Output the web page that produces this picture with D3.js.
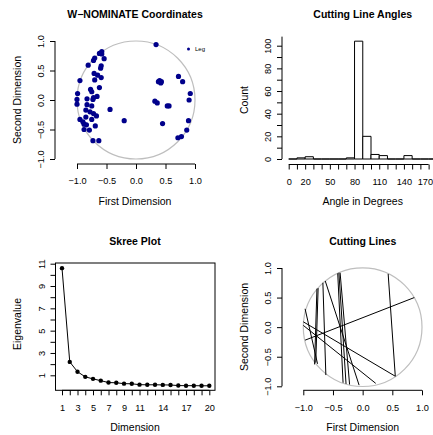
<!DOCTYPE html>
<html><head><meta charset="utf-8">
<script src="https://cdn.jsdelivr.net/npm/d3@7"></script>
<style>body{margin:0;background:#fff} svg{display:block} text{font-family:"Liberation Sans",Arial,Helvetica,sans-serif;fill:#000}</style>
</head><body><svg id="c" width="433" height="435"></svg>
<script>
// ---------- DATA ----------
// Panel 1: W-NOMINATE coordinates
const coordX = [-0.58,-0.62,-0.58,-0.54,-0.70,-0.72,-0.81,-0.59,-0.60,-0.71,-0.65,-0.59,-0.70,-0.95,-0.62,-0.77,-0.75,-0.99,-1.00,-0.83,-0.72,-0.73,-0.66,-1.00,-0.83,-0.75,-0.44,-0.20,-0.85,-0.78,-0.72,-0.67,-0.85,-0.95,-0.90,-0.75,-0.88,-0.84,-0.69,-0.88,-0.79,-0.73,-0.63,
  0.34,0.72,0.79,0.40,0.42,0.38,0.43,0.92,0.90,0.32,0.36,0.53,0.56,0.45,0.89,0.86,0.77,0.71];
const coordY = [0.82,0.79,0.78,0.70,0.71,0.67,0.59,0.58,0.54,0.45,0.42,0.38,0.34,0.33,0.21,0.18,0.14,0.11,0.01,0.02,0.04,0.01,0.06,-0.07,-0.08,-0.10,-0.16,-0.35,-0.17,-0.20,-0.23,-0.27,-0.29,-0.33,-0.37,-0.33,-0.41,-0.42,-0.44,-0.50,-0.51,-0.69,-0.69,
  0.94,0.40,0.31,0.33,0.29,0.31,0.31,0.11,0.00,-0.02,-0.05,-0.10,-0.10,-0.40,-0.35,-0.51,-0.62,-0.64];
const legendLabels = ["Leg"];
const coordTicks = [-1, -0.5, 0, 0.5, 1];
const coordTickLabels = ["\u22121.0","\u22120.5","0.0","0.5","1.0"];

// Panel 2: cutting line angle histogram (bins of 10 degrees)
const angleBinStarts = [0,10,20,30,40,50,60,70,80,90,100,110,120,130,140,150,160,170];
const angleCounts    = [0, 1, 2, 0, 0, 0, 0, 1,104,20,  4,  3,  0,  0,  3,  0,  0,  0];
const angleTicks = [0,10,20,30,40,50,60,70,80,90,100,110,120,130,140,150,160,170];
const angleTickLabels = ["0","","20","","","50","","","80","","","110","","","140","","","170"];
const countTicks = [0,10,20,30,40,50,60,70,80,90,100];
const countTickLabels = ["0","","20","","40","","60","","80","","100"];

// Panel 3: skree plot
const dims = [1,2,3,4,5,6,7,8,9,10,11,12,13,14,15,16,17,18,19,20];
const eigenvalues = [10.6,2.2,1.32,0.86,0.68,0.52,0.35,0.33,0.25,0.24,0.16,0.15,0.15,0.14,0.13,0.08,0.07,0.07,0.06,0.06];
const dimTicks = dims;
const dimTickLabels = ["1","","3","","5","","7","","9","","11","","","14","","","17","","","20"];
const eigTicks = [1,2,3,4,5,6,7,8,9,10,11];
const eigTickLabels = ["1","","3","","5","","7","","9","","11"];

// Panel 4: cutting lines (endpoints)
const cutX1 = [0.43, 0.87,-1.00,-1.00,-0.97,-0.77,-0.75,-0.67,-0.63,-0.42,-0.40,-0.38];
const cutY1 = [0.90, 0.50, 0.09, 0.03, 0.31, 0.65, 0.66, 0.75, 0.78, 0.91, 0.92, 0.92];
const cutX2 = [0.55,-0.97, 0.55, 0.22,-0.76,-0.81,-0.79,-0.62,-0.06,-0.33,-0.28,-0.22];
const cutY2 = [-0.83,-0.22,-0.83,-0.95,-0.62,-0.63,-0.60,-0.81,-0.98,-0.94,-0.96,-0.97];

// ---------- DRAW ----------
const svg = d3.select("#c");
const TICK_FS = 9.2, LAB_FS = 10.5, TITLE_FS = 10.5;

function title(txt, x, y) {
  svg.append("text").attr("x", x).attr("y", y).attr("dy","0.35em")
    .attr("text-anchor","middle").attr("font-weight","bold").attr("font-size", TITLE_FS).text(txt);
}
function xlab(txt, x, y) {
  svg.append("text").attr("x", x).attr("y", y).attr("dy","0.35em")
    .attr("text-anchor","middle").attr("font-size", LAB_FS).text(txt);
}
function ylab(txt, x, y) {
  svg.append("text").attr("transform", `translate(${x},${y}) rotate(-90)`).attr("dy","0.35em")
    .attr("text-anchor","middle").attr("font-size", LAB_FS).text(txt);
}
function bottomAxis(scale, ticks, labels, y) {
  const g = svg.append("g").attr("transform", `translate(0,${y})`)
    .call(d3.axisBottom(scale).tickValues(ticks).tickSize(5).tickSizeOuter(0)
      .tickFormat((d,i) => labels[i]));
  g.select(".domain").remove();
  g.selectAll(".tick line").attr("stroke","#000");
  g.selectAll(".tick text").attr("y", 17).attr("dy","0.35em")
    .attr("font-size", TICK_FS).attr("fill","#000");
  g.append("line").attr("x1", scale(ticks[0])).attr("x2", scale(ticks[ticks.length-1]))
    .attr("y1",0).attr("y2",0).attr("stroke","#000");
  g.attr("font-family", null).attr("font-size", null);
  return g;
}
function leftAxis(scale, ticks, labels, x, lineExtent) {
  const g = svg.append("g").attr("transform", `translate(${x},0)`)
    .call(d3.axisLeft(scale).tickValues(ticks).tickSize(5).tickSizeOuter(0)
      .tickFormat((d,i) => labels[i]));
  g.select(".domain").remove();
  g.selectAll(".tick line").attr("stroke","#000");
  g.selectAll(".tick text").attr("x", null).attr("dy","0.35em")
    .attr("transform","translate(-14,0) rotate(-90)").attr("text-anchor","middle")
    .attr("font-size", TICK_FS).attr("fill","#000");
  const ext = lineExtent || [ticks[0], ticks[ticks.length-1]];
  g.append("line").attr("y1", scale(ext[0])).attr("y2", scale(ext[1]))
    .attr("x1",0).attr("x2",0).attr("stroke","#000");
  g.attr("font-family", null).attr("font-size", null);
  return g;
}

// ---- Panel 1 ----
{
  const x = d3.scaleLinear([-1,1],[77,195]);
  const y = d3.scaleLinear([-1,1],[159,41]);
  title("W\u2212NOMINATE Coordinates", 135, 14);
  svg.append("circle").attr("cx", x(0)).attr("cy", y(0)).attr("r", x(1)-x(0))
    .attr("fill","none").attr("stroke","#bebebe").attr("stroke-width",1.2);
  svg.append("g").selectAll("circle").data(coordX).join("circle")
    .attr("cx", d => x(d)).attr("cy", (d,i) => y(coordY[i])).attr("r", 2.6).attr("fill","#00008b");
  // legend
  svg.append("circle").attr("cx", 188.5).attr("cy", 49).attr("r", 1.5).attr("fill","#00008b");
  svg.append("text").attr("x", 195).attr("y", 49).attr("dy","0.35em").attr("font-size", 6)
    .attr("fill","#444").text(legendLabels[0]);
  bottomAxis(x, coordTicks, coordTickLabels, 164);
  leftAxis(y, coordTicks, coordTickLabels, 55);
  xlab("First Dimension", 135, 201.5);
  ylab("Second Dimension", 17, 100);
}

// ---- Panel 2 ----
{
  const x = d3.scaleLinear([0,170],[288.7, 288.7+170*0.823]);
  const y = d3.scaleLinear([0,100],[159,45.7]);
  title("Cutting Line Angles", 362.7, 14);
  svg.append("defs").append("clipPath").attr("id","clipH").append("rect")
    .attr("x",282).attr("y",30).attr("width",151).attr("height",135);
  svg.append("g").attr("clip-path","url(#clipH)").selectAll("path").data(angleBinStarts).join("path")
    .attr("d", (d,i) => {
      const x0 = x(d), x1 = x(d+10), y0 = y(0), y1 = y(angleCounts[i]);
      return `M${x0},${y0}V${y1}H${x1}V${y0}Z`;
    })
    .attr("fill","#fff").attr("stroke","#000").attr("stroke-width",1);
  const ax = bottomAxis(x, angleTicks, angleTickLabels, 164.5);
  // keep the last label inside the page edge
  ax.selectAll(".tick text").filter(d => d === angleTicks[angleTicks.length-1])
    .attr("text-anchor","end").attr("x", 432.5 - x(angleTicks[angleTicks.length-1]));
  leftAxis(y, countTicks, countTickLabels, 282, [0,108]);
  xlab("Angle in Degrees", 362.7, 201.5);
  ylab("Count", 244, 100);
}

// ---- Panel 3 ----
{
  const x = d3.scaleLinear([1,20],[62,209.3]);
  const y = d3.scaleLinear([1,11],[375.3,263.7]);
  title("Skree Plot", 135, 241);
  svg.append("rect").attr("x",55.5).attr("y",263).attr("width",215-55.5).attr("height",390.3-263)
    .attr("fill","none").attr("stroke","#000");
  svg.append("path").datum(dims)
    .attr("d", d3.line().x(d => x(d)).y((d,i) => y(eigenvalues[i])))
    .attr("fill","none").attr("stroke","#000").attr("stroke-width",1);
  svg.append("g").selectAll("circle").data(dims).join("circle")
    .attr("cx", d => x(d)).attr("cy", (d,i) => y(eigenvalues[i])).attr("r", 2.2).attr("fill","#000");
  bottomAxis(x, dimTicks, dimTickLabels, 390.3);
  leftAxis(y, eigTicks, eigTickLabels, 55.5);
  xlab("Dimension", 135, 427.7);
  ylab("Eigenvalue", 17, 324);
}

// ---- Panel 4 ----
{
  const x = d3.scaleLinear([-1,1],[303.3,422]);
  const y = d3.scaleLinear([-1,1],[386.3,268]);
  title("Cutting Lines", 362.7, 241);
  svg.append("circle").attr("cx", x(0)).attr("cy", y(0)).attr("r", x(1)-x(0))
    .attr("fill","none").attr("stroke","#bebebe").attr("stroke-width",1.2);
  svg.append("g").selectAll("line").data(cutX1).join("line")
    .attr("x1", d => x(d)).attr("y1", (d,i) => y(cutY1[i]))
    .attr("x2", (d,i) => x(cutX2[i])).attr("y2", (d,i) => y(cutY2[i]))
    .attr("stroke","#000").attr("stroke-width",1);
  bottomAxis(x, coordTicks, coordTickLabels, 390.3);
  leftAxis(y, coordTicks, coordTickLabels, 282);
  xlab("First Dimension", 362.7, 427.7);
  ylab("Second Dimension", 244, 327);
}
</script></body></html>
